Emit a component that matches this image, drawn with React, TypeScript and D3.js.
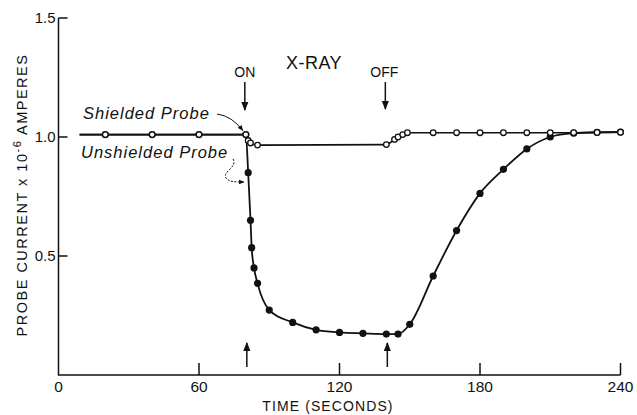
import React from "react";
import * as d3 from "d3";

// time axis (seconds) and current axis (x 10^-6 A)
const timeTicks = [0, 60, 120, 180, 240];
const currentTicks = [0.5, 1.0, 1.5];
const recordStart = 9; // trace begins a little after t = 0
const xrayOn = 80;
const xrayOff = 140;

const shieldedTime = [20, 40, 60, 80, 81, 82, 85, 140, 143.5, 145, 147, 149, 160, 170, 180, 190, 200, 210, 220, 230, 240];
const shieldedCurrent = [1.01, 1.01, 1.01, 1.01, 0.985, 0.975, 0.966, 0.968, 0.99, 1.0, 1.01, 1.018, 1.018, 1.018, 1.018, 1.018, 1.018, 1.018, 1.018, 1.019, 1.02];

const unshieldedTime = [20, 40, 60, 80, 81, 82, 82.5, 83.5, 85, 90, 100, 110, 120, 130, 140, 145, 150, 160, 170, 180, 190, 200, 210, 220, 230, 240];
const unshieldedCurrent = [1.01, 1.01, 1.01, 1.01, 0.85, 0.65, 0.535, 0.45, 0.385, 0.273, 0.221, 0.19, 0.179, 0.175, 0.172, 0.172, 0.213, 0.416, 0.607, 0.763, 0.864, 0.95, 1.0, 1.016, 1.02, 1.021];

const W = 637;
const H = 415;
const font = "'Liberation Sans', Arial, sans-serif";

export default function App() {
  const x = d3.scaleLinear().domain([0, 240]).range([58.5, 620.5]);
  const y = d3.scaleLinear().domain([0, 1.5]).range([375, 18]);

  const line = d3
    .line<[number, number]>()
    .x((d) => x(d[0]))
    .y((d) => y(d[1]))
    .curve(d3.curveMonotoneX);

  const shielded: [number, number][] = shieldedTime.map((t, i) => [t, shieldedCurrent[i]]);
  const unshielded: [number, number][] = unshieldedTime.map((t, i) => [t, unshieldedCurrent[i]]);
  const shieldedLine = line([[recordStart, shieldedCurrent[0]], ...shielded]) || "";
  const unshieldedLine = line([[recordStart, unshieldedCurrent[0]], ...unshielded]) || "";

  const x0 = x(0);
  const y0 = y(0);
  const onX = x(xrayOn);
  const offX = x(xrayOff);

  return (
    <svg width={W} height={H} style={{ position: "absolute", left: 0, top: 0, background: "#fff" }} fontFamily={font}>
      <defs>
        <marker id="ah" viewBox="0 0 10 10" refX="9" refY="5" markerWidth="6" markerHeight="6" orient="auto">
          <path d="M0,1 L10,5 L0,9 z" fill="#111" />
        </marker>
      </defs>

      {/* axes */}
      <g stroke="#111" strokeWidth={1.5} fill="none">
        <path d={`M${x0},${y(1.5)} V${y0} H${x(240)}`} />
        {currentTicks.map((v) => (
          <line key={v} x1={x0} x2={x0 + 9} y1={y(v)} y2={y(v)} />
        ))}
        {timeTicks.slice(1).map((t) => (
          <line key={t} x1={x(t)} x2={x(t)} y1={y0} y2={y0 - 12} />
        ))}
      </g>
      <g fontSize={15} fill="#111">
        {currentTicks.map((v) => (
          <text key={v} x={x0 - 3} y={y(v)} dy="0.36em" textAnchor="end">
            {v.toFixed(1)}
          </text>
        ))}
        {timeTicks.map((t) => (
          <text key={t} x={x(t)} y={y0 + 17} textAnchor="middle" fontSize={15.5}>
            {t}
          </text>
        ))}
      </g>
      <text x={328} y={411} textAnchor="middle" fontSize={14} letterSpacing={1.1} fill="#111">
        TIME (SECONDS)
      </text>
      <text
        transform={`translate(27,${195}) rotate(-90)`}
        textAnchor="middle"
        fontSize={14.5}
        letterSpacing={1.5}
        fill="#111"
      >
        PROBE CURRENT x 10
        <tspan dy={-6} fontSize={11}>-6</tspan>
        <tspan dy={6}> AMPERES</tspan>
      </text>

      {/* x-ray on/off markers */}
      <text x={314} y={69} textAnchor="middle" fontSize={18} fill="#111" letterSpacing={0.5}>X-RAY</text>
      <text x={onX - 1} y={77} textAnchor="middle" fontSize={14} fill="#111">ON</text>
      <text x={offX - 2} y={77} textAnchor="middle" fontSize={14} fill="#111">OFF</text>
      <g stroke="#111" strokeWidth={1.5} markerEnd="url(#ah)">
        <line x1={onX - 1} x2={onX - 1} y1={82} y2={110} />
        <line x1={offX - 1} x2={offX - 1} y1={82} y2={109} />
        <line x1={onX + 1} x2={onX + 1} y1={367} y2={343} />
        <line x1={offX + 1} x2={offX + 1} y1={367} y2={343} />
      </g>

      {/* series */}
      <path d={unshieldedLine} fill="none" stroke="#111" strokeWidth={1.8} />
      <path d={shieldedLine} fill="none" stroke="#111" strokeWidth={1.6} />
      {unshielded.map((d, i) => (
        <circle key={"u" + i} cx={x(d[0])} cy={y(d[1])} r={3.6} fill="#111" />
      ))}
      {shielded.map((d, i) => (
        <circle key={"s" + i} cx={x(d[0])} cy={y(d[1])} r={2.8} fill="#fff" stroke="#111" strokeWidth={1.3} />
      ))}

      {/* probe labels */}
      <text x={83} y={119} fontSize={16.5} fontStyle="italic" letterSpacing={1} fill="#111">Shielded Probe</text>
      <text x={81} y={158} fontSize={16.5} fontStyle="italic" letterSpacing={1} fill="#111">Unshielded Probe</text>
      <path
        d={`M217,114 Q232,116 ${onX - 3},${y(1.01) - 4}`}
        fill="none"
        stroke="#111"
        strokeWidth={1}
        markerEnd="url(#ah)"
      />
      <path
        d={`M233,159 C238,167 222,172 226,178 C229,182 235,182 ${x(81) - 4},182`}
        fill="none"
        stroke="#111"
        strokeWidth={1}
        strokeDasharray="2,1.5"
        markerEnd="url(#ah)"
      />
    </svg>
  );
}
